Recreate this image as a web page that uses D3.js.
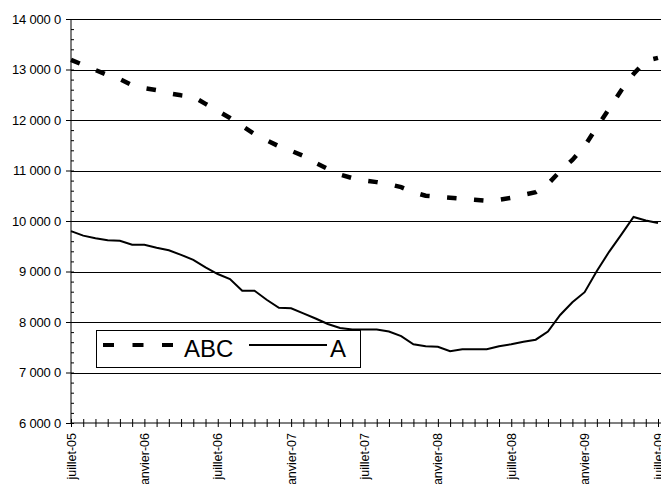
<!DOCTYPE html>
<html>
<head>
<meta charset="utf-8">
<script src="https://cdn.jsdelivr.net/npm/d3@7"></script>
<style>
  body { margin: 0; background: #fff; }
  svg { display: block; font-family: "Liberation Sans", Arial, sans-serif; }
</style>
</head>
<body>
<div id="chart"></div>
<script>
// series values, one per month from juillet-05 to juillet-09
const abc = [
  131900, 130900, 129900, 128900, 128100, 126900, 126300, 125900, 125300, 124900,
  124600, 123200, 121800, 120400, 118800, 117200, 116000, 114800, 113900, 112900,
  111500, 110300, 109200, 108500, 108000, 107700, 107300, 106700, 105700, 105000,
  104800, 104600, 104400, 104200, 104000, 104200, 104600, 105200, 105700, 107300,
  109900, 112100, 114800, 118600, 122200, 125900, 129100, 131700, 132300
];
const a = [
  98000, 97100, 96600, 96200, 96100, 95300, 95300, 94700, 94200, 93300,
  92300, 90800, 89500, 88500, 86200, 86200, 84400, 82800, 82700, 81700,
  80700, 79600, 78800, 78500, 78500, 78500, 78100, 77200, 75600, 75200,
  75100, 74200, 74600, 74600, 74600, 75200, 75600, 76100, 76500, 78100,
  81400, 83900, 85900, 90100, 93900, 97300, 100800, 100100, 99600
];
const xLabels = ["juillet-05", "janvier-06", "juillet-06", "janvier-07", "juillet-07",
                 "janvier-08", "juillet-08", "janvier-09", "juillet-09"];
const yTicks = [60000, 70000, 80000, 90000, 100000, 110000, 120000, 130000, 140000];
const yLabels = ["6 000 0", "7 000 0", "8 000 0", "9 000 0", "10 000 0",
                 "11 000 0", "12 000 0", "13 000 0", "14 000 0"];
const seriesNames = ["ABC", "A"];

const width = 661, height = 484;
const plotLeft = 71, plotRight = 658, plotTop = 19, plotBottom = 423;

const svg = d3.select("#chart").append("svg")
    .attr("width", width)
    .attr("height", height);

const x = d3.scaleLinear().domain([0, abc.length - 1]).range([plotLeft, plotRight]);
const y = d3.scaleLinear().domain([60000, 140000]).range([plotBottom, plotTop]);

// grid lines
svg.append("g")
    .selectAll("line")
    .data(yTicks.slice(1))
    .enter().append("line")
    .attr("x1", plotLeft).attr("x2", width)
    .attr("y1", d => Math.round(y(d)) + 0.5).attr("y2", d => Math.round(y(d)) + 0.5)
    .attr("stroke", "#000")
    .attr("stroke-width", 1);

// y axis: major ticks outside, minor ticks inside
const yAxis = svg.append("g")
    .attr("transform", `translate(${plotLeft},0)`)
    .call(d3.axisLeft(y).tickValues(yTicks).tickSize(5).tickFormat((d, i) => yLabels[i]));
yAxis.select(".domain").attr("stroke", "#000").attr("d", `M0,${plotTop}V${plotBottom}`);
yAxis.selectAll("text").attr("font-size", 13).attr("fill", "#000")
    .attr("font-family", "Liberation Sans, Arial, sans-serif").attr("x", -10)
    .attr("letter-spacing", -0.2);

svg.append("g")
    .attr("transform", `translate(${plotLeft},0)`)
    .call(d3.axisRight(y).tickValues(d3.range(60000, 140001, 2000)).tickSize(3).tickFormat(""))
    .call(g => g.select(".domain").remove());

// x axis: every month tick crossing the axis
const xAxis = svg.append("g")
    .attr("transform", `translate(0,${plotBottom})`)
    .call(d3.axisBottom(x).tickValues(d3.range(0, abc.length)).tickSizeInner(4).tickSizeOuter(0).tickFormat(""));
xAxis.select(".domain").attr("d", `M${plotLeft},0H${width}`);
xAxis.selectAll(".tick line").attr("y1", -4);

svg.append("g")
    .selectAll("text")
    .data(xLabels)
    .enter().append("text")
    .attr("transform", (d, i) => `translate(${x(i * 6) + 4.5},433) rotate(-90)`)
    .attr("text-anchor", "end")
    .attr("font-size", 12.5)
    .attr("fill", "#000")
    .text(d => d);

// lines
const line = d3.line().x((d, i) => x(i)).y(d => y(d));

svg.append("path")
    .datum(a)
    .attr("d", line)
    .attr("fill", "none")
    .attr("stroke", "#000")
    .attr("stroke-width", 2);

svg.append("path")
    .datum(abc)
    .attr("d", line)
    .attr("fill", "none")
    .attr("stroke", "#000")
    .attr("stroke-width", 4.5)
    .attr("stroke-dasharray", "9.5,17.5");

// legend
const legend = svg.append("g");
legend.append("rect")
    .attr("x", 96.5).attr("y", 330.5)
    .attr("width", 264).attr("height", 37)
    .attr("fill", "#fff")
    .attr("stroke", "#000")
    .attr("stroke-width", 1);
legend.append("line")
    .attr("x1", 103).attr("x2", 173).attr("y1", 345).attr("y2", 345)
    .attr("stroke", "#000").attr("stroke-width", 4)
    .attr("stroke-dasharray", "11,18.5");
legend.append("text")
    .attr("x", 184).attr("y", 357)
    .attr("font-size", 24)
    .text(seriesNames[0]);
legend.append("line")
    .attr("x1", 249).attr("x2", 327).attr("y1", 345).attr("y2", 345)
    .attr("stroke", "#000").attr("stroke-width", 2);
legend.append("text")
    .attr("x", 330).attr("y", 357)
    .attr("font-size", 24)
    .text(seriesNames[1]);
</script>
</body>
</html>
